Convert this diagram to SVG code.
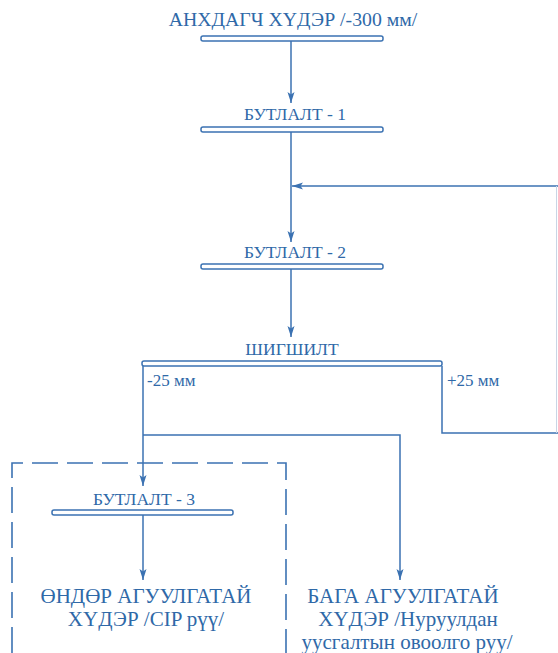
<svg xmlns="http://www.w3.org/2000/svg" width="558" height="653" viewBox="0 0 558 653">
<defs>
<marker id="arr" markerUnits="userSpaceOnUse" markerWidth="12" markerHeight="8" refX="11" refY="3.5" orient="auto">
<path d="M0,0 L11,3.5 L0,7 L2.5,3.5 z" fill="#3b72b2"/>
</marker>
<style>
.t{font-family:'Liberation Serif','DejaVu Serif',serif;fill:#2f69a8;text-anchor:middle}
.title{font-size:19.8px}
.big{font-size:21px}
.mid{font-size:17.5px}
.sm{font-size:17px}
.bar{fill:#fff;stroke:#3b72b2;stroke-width:1.5}
.c{fill:none;stroke:#3b72b2;stroke-width:1.5}
.d{fill:none;stroke:#3b72b2;stroke-width:1.6;stroke-dasharray:26 9}
</style>
</defs>
<rect width="558" height="653" fill="#fff"/>
<g id="connectors">
<path class="c" d="M291,41 V103" marker-end="url(#arr)"/>
<path class="c" d="M291,132 V242" marker-end="url(#arr)"/>
<path class="c" d="M558,186 H292" marker-end="url(#arr)"/>
<path class="c" d="M291,269 V337" marker-end="url(#arr)"/>
<path class="c" d="M442,366 V433 H558"/>
<path fill="none" stroke="#c9d5e5" stroke-width="1" d="M556.5,186 V433"/>
<path class="c" d="M143,366 V486" marker-end="url(#arr)"/>
<path class="c" d="M143,435 H400 V580" marker-end="url(#arr)"/>
<path class="c" d="M143,515 V580" marker-end="url(#arr)"/>
</g>
<g id="boundary">
<path class="d" d="M12,653 V463 H286 V653"/>
</g>
<g id="n-title">
<text class="t title" x="293" y="26">АНХДАГЧ ХҮДЭР /-300 мм/</text>
<rect class="bar" x="201" y="36" width="182" height="5" rx="2"/>
</g>
<g id="n-b1">
<text class="t mid" x="295" y="120">БУТЛАЛТ - 1</text>
<rect class="bar" x="201" y="127" width="182" height="5" rx="2"/>
</g>
<g id="n-b2">
<text class="t mid" x="295" y="258">БУТЛАЛТ - 2</text>
<rect class="bar" x="201" y="264" width="182" height="5" rx="2"/>
</g>
<g id="n-screen">
<text class="t mid" x="292" y="355">ШИГШИЛТ</text>
<rect class="bar" x="142" y="361" width="300" height="5" rx="2"/>
<text class="t sm" x="147" y="386" style="text-anchor:start">-25 мм</text>
<text class="t sm" x="447" y="386" style="text-anchor:start">+25 мм</text>
</g>
<g id="n-b3">
<text class="t mid" x="144" y="505">БУТЛАЛТ - 3</text>
<rect class="bar" x="52" y="510" width="181" height="5" rx="2"/>
</g>
<g id="n-high">
<text class="t big" x="146" y="603">ӨНДӨР АГУУЛГАТАЙ</text>
<text class="t big" x="146" y="626">ХҮДЭР /CIP рүү/</text>
</g>
<g id="n-low">
<text class="t big" x="403" y="603">БАГА АГУУЛГАТАЙ</text>
<text class="t big" x="408" y="626">ХҮДЭР /Нуруулдан</text>
<text class="t big" x="407" y="649">уусгалтын овоолго руу/</text>
</g>
</svg>
